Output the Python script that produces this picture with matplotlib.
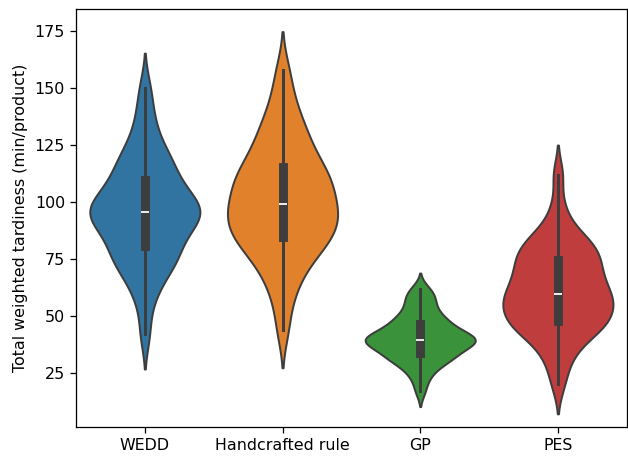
import numpy as np
import pandas as pd
import seaborn as sns
import matplotlib
matplotlib.use("Agg")
from matplotlib import pyplot as plt

# sample values per method
wedd = [42, 55, 62, 66, 70, 72, 74, 76, 78, 79,
        81, 84, 86, 88, 90, 91, 92, 93, 94, 95,
        96, 97, 98, 99, 100, 101, 103, 105, 107, 109,
        111, 113, 116, 118, 120, 123, 127, 133, 140, 150]
handcrafted = [44, 56, 63, 68, 72, 75, 78, 80, 82, 83,
               85, 87, 88, 90, 91, 93, 94, 95, 97, 98,
               100, 102, 104, 105, 107, 109, 110, 112, 114, 115,
               117, 120, 123, 126, 129, 132, 136, 141, 148, 158]
gp = [17, 22, 25, 27, 29, 30, 31, 32, 32, 33,
      34, 35, 36, 37, 37, 38, 38, 39, 39, 39,
      40, 40, 41, 41, 42, 42, 43, 44, 45, 46,
      47, 48, 49, 50, 52, 54, 56, 58, 60, 62]
pes = [20, 28, 33, 37, 40, 42, 44, 45, 46, 47,
       48, 50, 51, 52, 54, 55, 56, 57, 58, 59,
       60, 62, 63, 65, 66, 68, 69, 71, 73, 74,
       76, 77, 79, 80, 82, 84, 86, 90, 98, 112]

methods = ["WEDD", "Handcrafted rule", "GP", "PES"]
samples = [wedd, handcrafted, gp, pes]

df = pd.DataFrame({
    "method": np.repeat(methods, [len(s) for s in samples]),
    "value": np.concatenate(samples),
})

fig = plt.figure(figsize=(628 / 114, 459 / 114), dpi=114)
ax = fig.add_axes([0.121, 0.070, 0.877, 0.910])
sns.violinplot(data=df, x="method", y="value", hue="method", order=methods,
               hue_order=methods, palette="tab10", density_norm="width",
               bw_adjust=0.7, legend=False, ax=ax)
ax.set_ylim(1.3, 184.6)
ax.set_xlabel("")
ax.set_ylabel("Total weighted tardiness (min/product)")

fig.savefig("out.png", dpi=114)
